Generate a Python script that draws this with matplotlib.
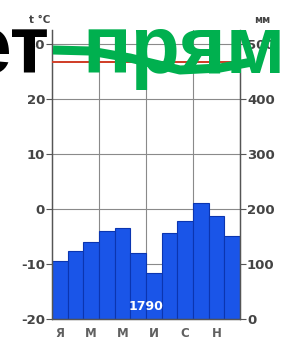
import matplotlib
matplotlib.use("Agg")
import matplotlib.pyplot as plt
from matplotlib.lines import Line2D

months = ["Я", "Ф", "М", "А", "М", "И", "И", "А", "С", "О", "Н", "Д"]
label_idx = [0, 2, 4, 6, 8, 10]
precip_mm = [106, 123, 139, 159, 166, 120, 83, 157, 178, 210, 187, 150]
temp_c = [26.6, 26.6, 26.6, 26.6, 26.6, 26.6, 26.6, 26.6, 26.6, 26.6, 26.6, 26.6]
temp_ticks = [-20, -10, 0, 10, 20, 30]
mm_ticks = [0, 100, 200, 300, 400, 500]
total_label = "1790"

W, H = 282, 342
fig = plt.figure(figsize=(W / 100, H / 100), dpi=100)
fig.patch.set_facecolor("white")

def fx(px):
    return px / W

def fy(py):
    return 1 - py / H

left, right, bottom, top = 52, 240, 319, 30
ax = fig.add_axes([fx(left), fy(bottom), fx(right) - fx(left), fy(top) - fy(bottom)])
ax2 = ax.twinx()

tmin, tmax = -20, 32.5
ax.set_ylim(tmin, tmax)
ax2.set_ylim((tmin + 20) * 10, (tmax + 20) * 10)
ax.set_xlim(-0.5, 11.5)
ax2.set_xlim(-0.5, 11.5)

# grid (drawn on the bar axes, behind the bars)
for m in mm_ticks:
    ax2.axhline(m, color="#8a8a8a", lw=0.8, zorder=0)
for xb in [2.5, 5.5, 8.5]:
    ax2.axvline(xb, color="#8a8a8a", lw=0.8, zorder=0)

xs = list(range(12))
ax2.bar(xs, precip_mm, width=1.0, color="#1a55e8", edgecolor="#0b35b0",
        linewidth=0.8, zorder=2)
ax.set_zorder(ax2.get_zorder() + 1)
ax.patch.set_visible(False)
ax.plot([-0.5, 11.5], temp_c[:1] * 2, color="#d0402a", lw=1.4, zorder=3)
ax.plot(xs, temp_c, color="#d0402a", lw=1.4, zorder=3)

ax2.text(5.5, 22, total_label, color="white", fontsize=9, fontweight="bold",
         ha="center", va="center", zorder=4, family="DejaVu Sans")

for a in (ax, ax2):
    for s in a.spines.values():
        s.set_color("#555555")
        s.set_linewidth(0.9)
    a.spines["top"].set_visible(False)

ax.set_yticks(temp_ticks)
ax.set_yticklabels([str(t) for t in temp_ticks])
ax2.set_yticks(mm_ticks)
ax2.set_yticklabels([str(m) for m in mm_ticks])
ax.tick_params(axis="y", length=4, width=0.8, color="#555555", pad=1,
               labelsize=9.5, labelcolor="#444444")
ax2.tick_params(axis="y", length=4, width=0.8, color="#555555", pad=1,
                labelsize=9.5, labelcolor="#444444")
for lbl in ax.get_yticklabels() + ax2.get_yticklabels():
    lbl.set_fontweight("bold")

ax.set_xticks(label_idx)
ax.set_xticklabels([months[i] for i in label_idx], fontsize=8.5,
                   fontweight="bold", color="#606060")
ax.tick_params(axis="x", length=0, pad=6)
ax2.tick_params(axis="x", length=0, labelbottom=False)

fig.text(fx(40), fy(20), "t °C", fontsize=7.5, color="#444444", ha="center",
         va="center", fontweight="bold")
fig.text(fx(262), fy(20), "мм", fontsize=7, color="#444444", ha="center",
         va="center", fontweight="bold")

# overlay text
fig.text(fx(50), fy(73), "ет", fontsize=58, fontweight="bold", color="black",
         ha="right", va="baseline", family="Liberation Sans", zorder=10)
fig.text(fx(82), fy(73), "прям", fontsize=58, fontweight="bold", color="#00b04f",
         ha="left", va="baseline", family="Liberation Sans", zorder=10)
sx = [53, 90, 130, 180, 220, 252]
sy = [50, 51, 58, 70, 68, 62]
fig.add_artist(Line2D([fx(v) for v in sx], [fy(v) for v in sy], color="#00b04f",
                      lw=6.5, transform=fig.transFigure, zorder=11,
                      solid_capstyle="butt"))

fig.savefig("out.png", dpi=100)
